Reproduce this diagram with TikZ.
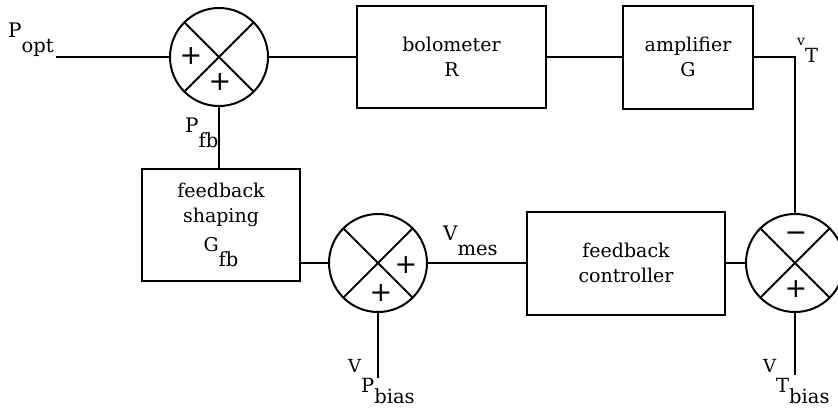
\documentclass[tikz,border=0pt]{standalone}
\usepackage{fontspec}
\setmainfont{DejaVu Serif}
\newfontfamily\signfont{DejaVu Sans}
\usetikzlibrary{positioning, calc}
\newcommand{\lowsub}[3][15pt]{#2\raisebox{-#1}{\fontsize{19.5}{19.5}\selectfont #3}}
\tikzset{
	blk/.style={draw, line width=2pt, inner sep=0, align=center, font=\fontsize{19}{25}\selectfont},
	sum/.style={draw, circle, line width=2pt, minimum size=98pt, inner sep=0},
	sgn/.style={font=\signfont\fontsize{27}{27}\selectfont, inner sep=0},
	lbl/.style={font=\fontsize{20}{20}\selectfont, inner sep=0, anchor=base west},
	wire/.style={line width=2pt},
}
\begin{document}
\begin{tikzpicture}[x=1pt, y=-1pt]
\useasboundingbox (0,0) rectangle (838,408);
\foreach \n/\x/\y in {sa/219/57, sb/378/263, sc/795/263} {
	\node[sum] (\n) at (\x, \y) {};
	\draw[wire] (\n.north west) -- (\n.south east) (\n.north east) -- (\n.south west);
}
\node[blk, minimum width=189, minimum height=102] (bolo) at (451.5, 57) {bolometer\\R};
\node[blk, minimum width=130, minimum height=103] (amp) at (688, 57) {amplifier\\G};
\node[blk, minimum width=158, minimum height=112] (shape) at (221, 225) {feedback\\shaping\\[4pt]\lowsub{G}{fb}};
\node[blk, minimum width=198, minimum height=103] (ctrl) at (626, 263) {feedback\\controller};
\coordinate (pin) at (56, 57);
\draw[wire] (pin) -- (sa.west);
\draw[wire] (sa.east) -- (bolo.west);
\draw[wire] (bolo.east) -- (amp.west);
\draw[wire] (amp.east) -| (sc.north);
\draw[wire] (sa.south) -- (sa.south |- shape.north);
\draw[wire] (sb.west -| shape.east) -- (sb.west);
\draw[wire] (sb.east) -- (ctrl.west);
\draw[wire] (ctrl.east) -- (sc.west);
\draw[wire] (sb.south) -- ++(0, 65) coordinate (vpb);
\draw[wire] (sc.south) -- ++(0, 62) coordinate (vtb);
% signs of the summing points
\node[sgn] (sa1) at (191, 56) {+};
\node[sgn] (sa2) at (220, 82) {+};
\node[sgn] (sb1) at (406, 265) {+};
\node[sgn] (sb2) at (381, 293) {+};
\node[sgn] (sc1) at (796, 237) {−};
\node[sgn] (sc2) at (796, 289) {+};
% signal names
\node[lbl] (popt) at (8, 37) {\lowsub{P}{opt}};
\node[lbl] (pfb) at (185, 132) {\lowsub{P}{fb}};
\node[lbl] (vt) at (797, 45) {\lowsub[17pt]{{\fontsize{14}{14}\selectfont v}}{T}};
\node[lbl] (vmes) at (443, 240) {\lowsub{V}{mes}};
\node[lbl] (vpbias) at (348, 372) {\lowsub[20pt]{{\fontsize{18}{18}\selectfont V}}{\lowsub[11pt]{P}{bias}}};
\node[lbl] (vtbias) at (763, 372) {\lowsub[20pt]{{\fontsize{18}{18}\selectfont V}}{\lowsub[11pt]{T}{bias}}};
\end{tikzpicture}
\end{document}
